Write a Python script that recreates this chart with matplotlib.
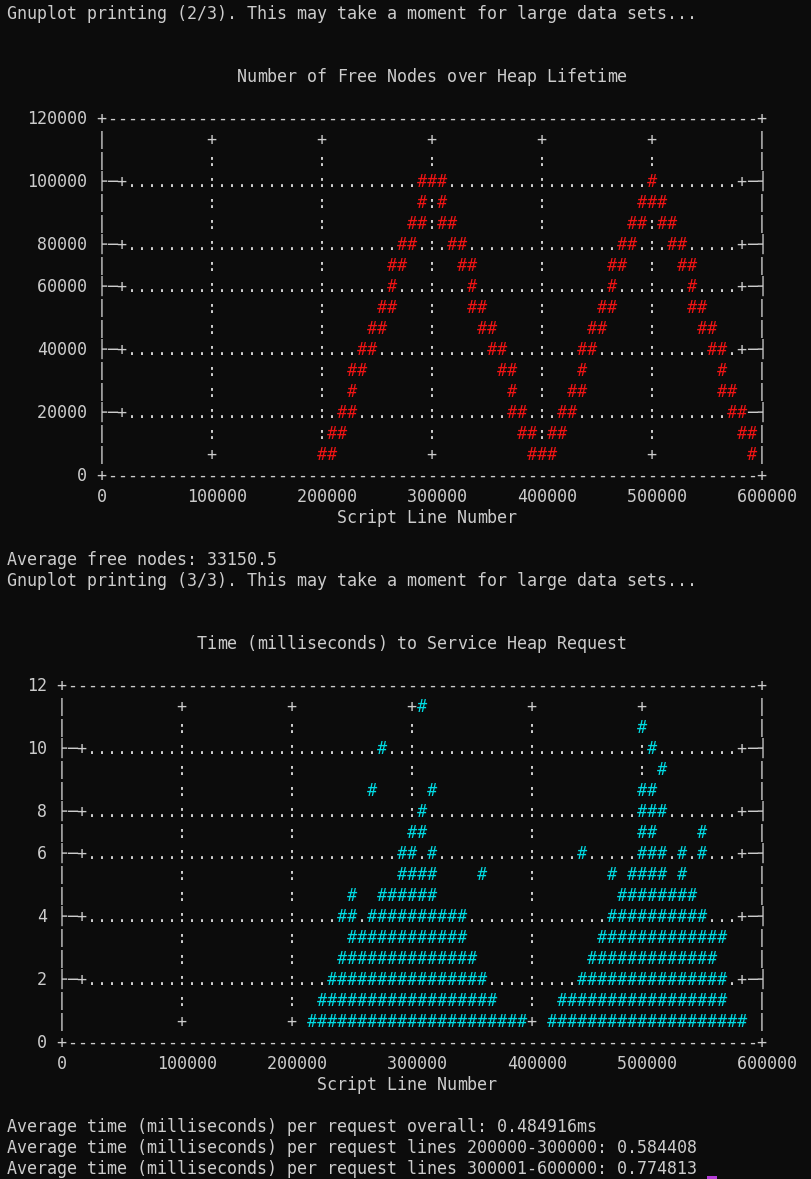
import matplotlib
matplotlib.use("Agg")
import numpy as np
import matplotlib.pyplot as plt
from matplotlib.transforms import offset_copy
from matplotlib.patches import Rectangle

# terminal look (Windows Terminal style, gnuplot "dumb" output)
BG = "#0c0c0c"
FG = "#cccccc"
RED = "#f01414"
CYAN = "#00dbe3"
CURSOR = "#b43cd8"
FONT = "DejaVu Sans Mono"
FS = 11.96                    # 10 px character advance at 100 dpi

W, H = 811, 1179
CELL_W, CELL_H = 10.0, 21.0   # one terminal cell, pixels
COL0_X, ROW0_Y = 11.7, 12.5   # centre of the first terminal cell
BASE_DROP = 6.5               # baseline below the cell centre
NROWS = 17                    # text rows between top and bottom border

# ---- plot 2/3: free nodes over heap lifetime (one entry per '#') ----
free_line = [
    200000, 209000, 209000, 218000, 218000, 227000, 227000, 227000, 236000, 236000,
    245000, 245000, 255000, 255000, 264000, 264000, 264000, 273000, 273000, 282000,
    282000, 291000, 291000, 291000, 300000, 309000, 309000, 309000, 318000, 318000,
    327000, 327000, 336000, 336000, 336000, 345000, 345000, 355000, 355000, 364000,
    364000, 373000, 373000, 373000, 382000, 382000, 391000, 391000, 400000, 409000,
    409000, 418000, 418000, 427000, 427000, 436000, 436000, 436000, 445000, 445000,
    455000, 455000, 464000, 464000, 464000, 473000, 473000, 482000, 482000, 491000,
    491000, 500000, 500000, 509000, 509000, 518000, 518000, 527000, 527000, 536000,
    536000, 536000, 545000, 545000, 555000, 555000, 564000, 564000, 564000, 573000,
    573000, 582000, 582000, 591000, 591000,
]
free_nodes = [
    7000, 7000, 14000, 14000, 21000, 21000, 28000, 35000, 35000, 42000,
    42000, 49000, 49000, 56000, 56000, 64000, 71000, 71000, 78000, 78000,
    85000, 85000, 92000, 99000, 99000, 99000, 92000, 85000, 85000, 78000,
    78000, 71000, 71000, 64000, 56000, 56000, 49000, 49000, 42000, 42000,
    35000, 35000, 28000, 21000, 21000, 14000, 14000, 7000, 7000, 7000,
    14000, 14000, 21000, 21000, 28000, 28000, 35000, 42000, 42000, 49000,
    49000, 56000, 56000, 64000, 71000, 71000, 78000, 78000, 85000, 85000,
    92000, 92000, 99000, 92000, 85000, 85000, 78000, 78000, 71000, 71000,
    64000, 56000, 56000, 49000, 49000, 42000, 42000, 35000, 28000, 28000,
    21000, 21000, 14000, 14000, 7000,
]
free_xticks = [0, 100000, 200000, 300000, 400000, 500000, 600000]
free_yticks = [0, 20000, 40000, 60000, 80000, 100000, 120000]

# ---- plot 3/3: service time, runs of '#' per time level ----
time_ms = [0.7, 0.7, 1.4, 1.4, 2.1, 2.1, 2.8, 2.8, 3.5, 3.5,
           4.2, 4.2, 4.2, 4.9, 4.9, 4.9, 5.6, 5.6, 5.6, 5.6, 5.6,
           6.4, 6.4, 6.4, 6.4, 6.4, 6.4, 7.1, 7.1, 7.1, 7.8, 7.8,
           8.5, 8.5, 8.5, 9.2, 9.9, 9.9, 10.6, 11.3]
run_from = [214000, 420000, 223000, 429000, 231000, 446000, 240000, 454000, 249000, 463000,
            240000, 266000, 471000, 249000, 274000, 480000, 291000, 360000, 471000, 489000, 531000,
            291000, 317000, 446000, 497000, 531000, 549000, 300000, 497000, 549000, 309000, 497000,
            266000, 317000, 497000, 514000, 274000, 506000, 497000, 309000]
run_to = [394000, 583000, 369000, 566000, 360000, 566000, 351000, 557000, 343000, 566000,
          249000, 343000, 549000, 249000, 317000, 540000, 317000, 360000, 471000, 514000, 531000,
          300000, 317000, 446000, 514000, 531000, 549000, 309000, 506000, 549000, 309000, 514000,
          266000, 317000, 506000, 514000, 274000, 506000, 497000, 309000]
time_xticks = [0, 100000, 200000, 300000, 400000, 500000, 600000]
time_yticks = [0, 2, 4, 6, 8, 10, 12]

fig = plt.figure(figsize=(W / 100, H / 100), dpi=100, facecolor=BG)
term = fig.add_axes([0, 0, 1, 1])
term.set_xlim(0, W)
term.set_ylim(H, 0)
term.axis("off")


def term_line(row, text, col=0):
    term.text(COL0_X - CELL_W / 2 + CELL_W * col, ROW0_Y + CELL_H * row + BASE_DROP, text,
              color=FG, family=FONT, fontsize=FS, ha="left", va="baseline")


def snap(v):
    return int(np.floor(v + 0.5))


def make_chart(left_col, top_row, ncols, xmax, ymax):
    x0 = COL0_X + CELL_W * left_col
    y_bot = ROW0_Y + CELL_H * (top_row + NROWS)
    ax = fig.add_axes([x0 / W, (H - y_bot) / H, CELL_W * ncols / W, CELL_H * NROWS / H])
    ax.set_xlim(0, xmax)
    ax.set_ylim(0, ymax)
    ax.axis("off")
    return ax


def draw_chart(ax, ncols, xticks, yticks, title, marks, mark_color):
    xmax, ymax = ax.get_xlim()[1], ax.get_ylim()[1]
    cw, rh = xmax / ncols, ymax / NROWS
    tr = offset_copy(ax.transData, fig=fig, y=-BASE_DROP, units="dots")

    def put(c, r, s, color=FG):
        for i, ch in enumerate(s):
            if ch != " ":
                ax.text((c + i) * cw, r * rh, ch, transform=tr, color=color, family=FONT,
                        fontsize=FS, ha="center", va="baseline", clip_on=False)

    grid = {}
    for c in range(ncols + 1):
        grid[(c, 0)] = grid[(c, NROWS)] = "-"
    for r in range(1, NROWS):
        grid[(0, r)] = grid[(ncols, r)] = "|"
    for k in (0, ncols):
        grid[(k, 0)] = grid[(k, NROWS)] = "+"

    tick_rows = [snap(t * NROWS / ymax) for t in yticks[1:-1]]
    tick_cols = [snap(t * ncols / xmax) for t in xticks[1:-1]]
    for r in tick_rows:
        for c in range(3, ncols - 2):
            grid[(c, r)] = "."
        grid[(0, r)], grid[(1, r)], grid[(2, r)] = "├", "─", "+"
        grid[(ncols - 2, r)], grid[(ncols - 1, r)], grid[(ncols, r)] = "+", "─", "┤"
    for c in tick_cols:
        for r in range(2, NROWS - 1):
            grid[(c, r)] = ":"
        grid[(c, 1)] = grid[(c, NROWS - 1)] = "+"

    for (c, r), ch in grid.items():
        if (c, r) not in marks:
            put(c, r, ch)
    for c, r in marks:
        put(c, r, "#", mark_color)

    for t in yticks:
        s = str(t)
        put(-1 - len(s), snap(t * NROWS / ymax), s)
    for t in xticks:
        s = str(t)
        put(snap(t * ncols / xmax) - (len(s) - 1) // 2, -1, s)
    put((ncols - len(title) + 1) // 2, NROWS + 2, title)
    xlabel = "Script Line Number"
    put((ncols - len(xlabel) + 1) // 2, -2, xlabel)


# ---- terminal text ----
term_line(0, "Gnuplot printing (2/3). This may take a moment for large data sets...")
term_line(26, "Average free nodes: 33150.5")
term_line(27, "Gnuplot printing (3/3). This may take a moment for large data sets...")
term_line(53, "Average time (milliseconds) per request overall: 0.484916ms")
term_line(54, "Average time (milliseconds) per request lines 200000-300000: 0.584408")
term_line(55, "Average time (milliseconds) per request lines 300001-600000: 0.774813")
term.add_patch(Rectangle((COL0_X - CELL_W / 2 + CELL_W * 70, H - 3), CELL_W, 3,
                         color=CURSOR, lw=0))

# ---- chart 1: free nodes ----
ax1 = make_chart(9, 5, 66, 600000, 120000)
marks1 = set()
for x, y in zip(free_line, free_nodes):
    marks1.add((snap(x * 66 / 600000), snap(y * NROWS / 120000)))
draw_chart(ax1, 66, free_xticks, free_yticks,
           "Number of Free Nodes over Heap Lifetime", marks1, RED)

# ---- chart 2: service time ----
ax2 = make_chart(5, 32, 70, 600000, 12)
marks2 = set()
for t, a, b in zip(time_ms, run_from, run_to):
    r = snap(t * NROWS / 12)
    for c in range(snap(a * 70 / 600000), snap(b * 70 / 600000) + 1):
        marks2.add((c, r))
draw_chart(ax2, 70, time_xticks, time_yticks,
           "Time (milliseconds) to Service Heap Request", marks2, CYAN)

fig.savefig("out.png", dpi=100, facecolor=BG)
